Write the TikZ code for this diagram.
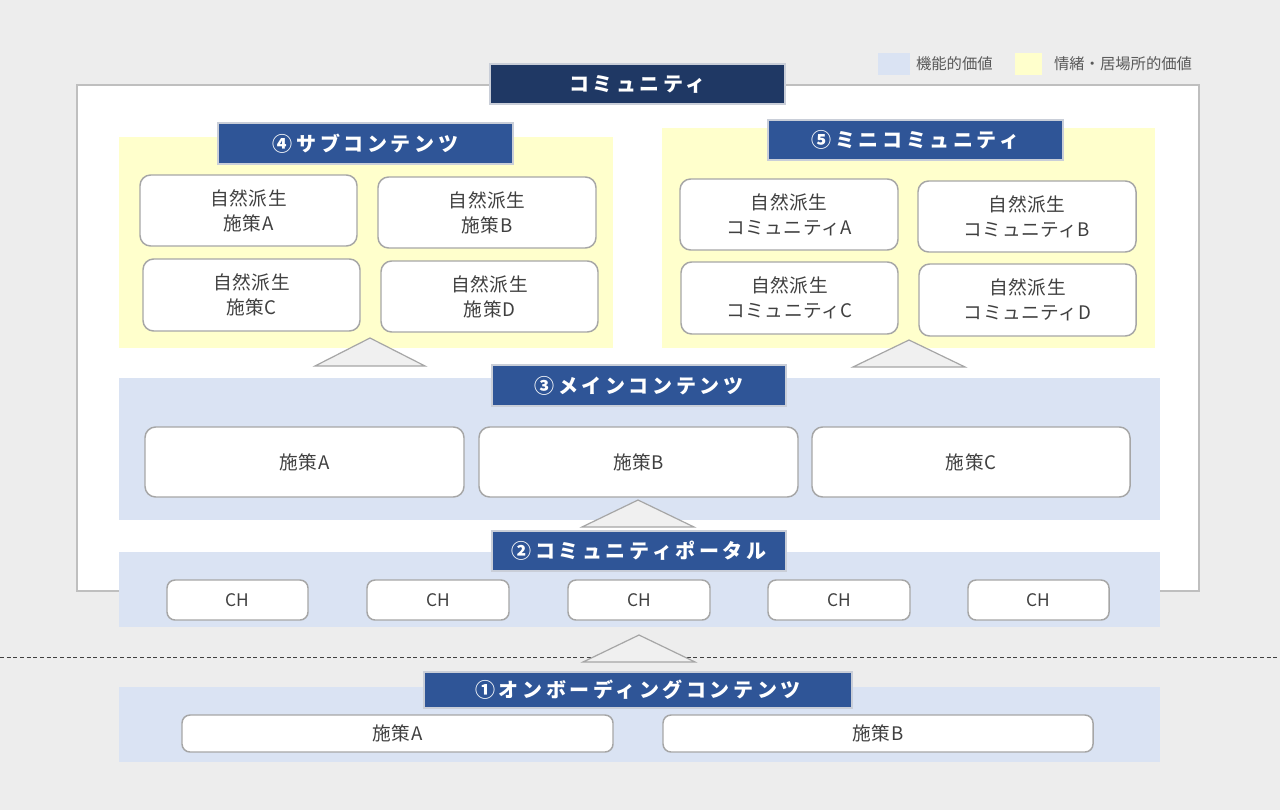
\documentclass[tikz,border=0pt]{standalone}
\usepackage{fontspec}
\setmainfont{Noto Sans CJK JP}
\newfontfamily\hdfont[LetterSpace=18]{Noto Sans CJK JP}
\newfontfamily\cardfont[LetterSpace=3]{Noto Sans CJK JP}
\definecolor{bgc}{HTML}{EDEDED}
\definecolor{outerb}{HTML}{BFBFBF}
\definecolor{yel}{HTML}{FFFFCC}
\definecolor{blu}{HTML}{DAE3F3}
\definecolor{hdblue}{HTML}{2F5597}
\definecolor{hdnavy}{HTML}{1F3864}
\definecolor{hdline}{HTML}{C9CED8}
\definecolor{cardb}{HTML}{A6A6A6}
\definecolor{txt}{HTML}{404040}
\definecolor{lgtxt}{HTML}{595959}
\definecolor{trif}{HTML}{F0F0F0}
\newcommand\bx[7]{\node[#6, minimum width={(#4-#2)*0.75pt}, minimum height={(#5-#3)*0.75pt}] (#1) at ({(#2+#4)/2},{(#3+#5)/2}) {#7};}
\tikzset{
  plain/.style={inner sep=0pt, outer sep=0pt},
  yarea/.style={plain, fill=yel},
  barea/.style={plain, fill=blu},
  outerbox/.style={plain, fill=white, draw=outerb, line width=1pt},
  hdr/.style={plain, fill=hdblue, draw=hdline, line width=0.8pt, text=white, font=\hdfont\bfseries\fontsize{15}{18}\selectfont},
  tophdr/.style={hdr, fill=hdnavy},
  card/.style={plain, fill=white, draw=cardb, line width=1.1pt, rounded corners=8pt, text=txt, align=center, font=\cardfont\fontsize{14}{18.75}\selectfont},
  chcard/.style={card, rounded corners=6pt, font=\fontsize{13}{15}\selectfont},
  tri/.style={fill=trif, draw=cardb, line width=0.9pt, line join=miter},
  lgbox/.style={plain},
  lgtext/.style={plain, anchor=west, text=lgtxt, font=\fontsize{11.5}{13}\selectfont},
  sepline/.style={draw=txt, line width=0.7pt, dash pattern=on 3pt off 2pt},
}
\begin{document}
\begin{tikzpicture}[x=0.75pt,y=-0.75pt]
\useasboundingbox (0,0) rectangle (1280,810);
\fill[bgc] (0,0) rectangle (1280,810);
% legend
\bx{lgb}{878}{53}{910}{75}{lgbox, fill=blu}{}
\node[lgtext] (lgbt) at (916,64) {機能的価値};
\bx{lgy}{1015}{53}{1042}{75}{lgbox, fill=yel}{}
\node[lgtext] (lgyt) at (1054,64) {情緒・居場所的価値};
% outer box
\bx{outer}{77}{85}{1199}{591}{outerbox}{}
\bx{top}{490}{64}{785}{104}{tophdr}{コミュニティ}
% area 4
\bx{a4}{119}{137}{613}{348}{yarea}{}
\bx{h4}{218}{123}{513}{164}{hdr}{④サブコンテンツ}
\bx{s4a}{140}{175}{357}{246}{card}{自然派生\\施策A}
\bx{s4b}{378}{177}{596}{248}{card}{自然派生\\施策B}
\bx{s4c}{143}{259}{360}{331}{card}{自然派生\\施策C}
\bx{s4d}{381}{261}{598}{332}{card}{自然派生\\施策D}
% area 5
\bx{a5}{662}{128}{1155}{348}{yarea}{}
\bx{h5}{768}{120}{1063}{160}{hdr}{⑤ミニコミュニティ}
\bx{s5a}{680}{179}{898}{250}{card}{自然派生\\コミュニティA}
\bx{s5b}{918}{181}{1136}{252}{card}{自然派生\\コミュニティB}
\bx{s5c}{681}{262}{898}{334}{card}{自然派生\\コミュニティC}
\bx{s5d}{919}{264}{1136}{336}{card}{自然派生\\コミュニティD}
% triangles 3 -> 4,5
\filldraw[tri] (315,366) -- (370,338) -- (425,366) -- cycle;
\filldraw[tri] (853,367) -- (909,340) -- (965,367) -- cycle;
% area 3
\bx{a3}{119}{378}{1160}{520}{barea}{}
\bx{h3}{492}{365}{786}{406}{hdr}{③メインコンテンツ}
\bx{m3a}{145}{427}{464}{497}{card}{施策A}
\bx{m3b}{479}{427}{798}{497}{card}{施策B}
\bx{m3c}{812}{427}{1130}{497}{card}{施策C}
\filldraw[tri] (582,527) -- (638,500) -- (694,527) -- cycle;
% area 2
\bx{a2}{119}{552}{1160}{627}{barea}{}
\bx{h2}{492}{531}{786}{571}{hdr}{②コミュニティポータル}
\bx{ch1}{167}{580}{308}{620}{chcard}{CH}
\bx{ch2}{367}{580}{509}{620}{chcard}{CH}
\bx{ch3}{568}{580}{710}{620}{chcard}{CH}
\bx{ch4}{768}{580}{910}{620}{chcard}{CH}
\bx{ch5}{968}{580}{1109}{620}{chcard}{CH}
% separator
\coordinate (sepL) at (0,657);
\coordinate (sepR) at (1280,657);
\draw[sepline] (sepL) -- (sepR);
\filldraw[tri] (583,662) -- (639,635) -- (695,662) -- cycle;
% area 1
\bx{a1}{119}{687}{1160}{762}{barea}{}
\bx{h1}{424}{672}{852}{708}{hdr}{①オンボーディングコンテンツ}
\bx{o1a}{182}{715}{613}{752}{card, rounded corners=6pt}{施策A}
\bx{o1b}{663}{715}{1093}{752}{card, rounded corners=6pt}{施策B}
\end{tikzpicture}
\end{document}
